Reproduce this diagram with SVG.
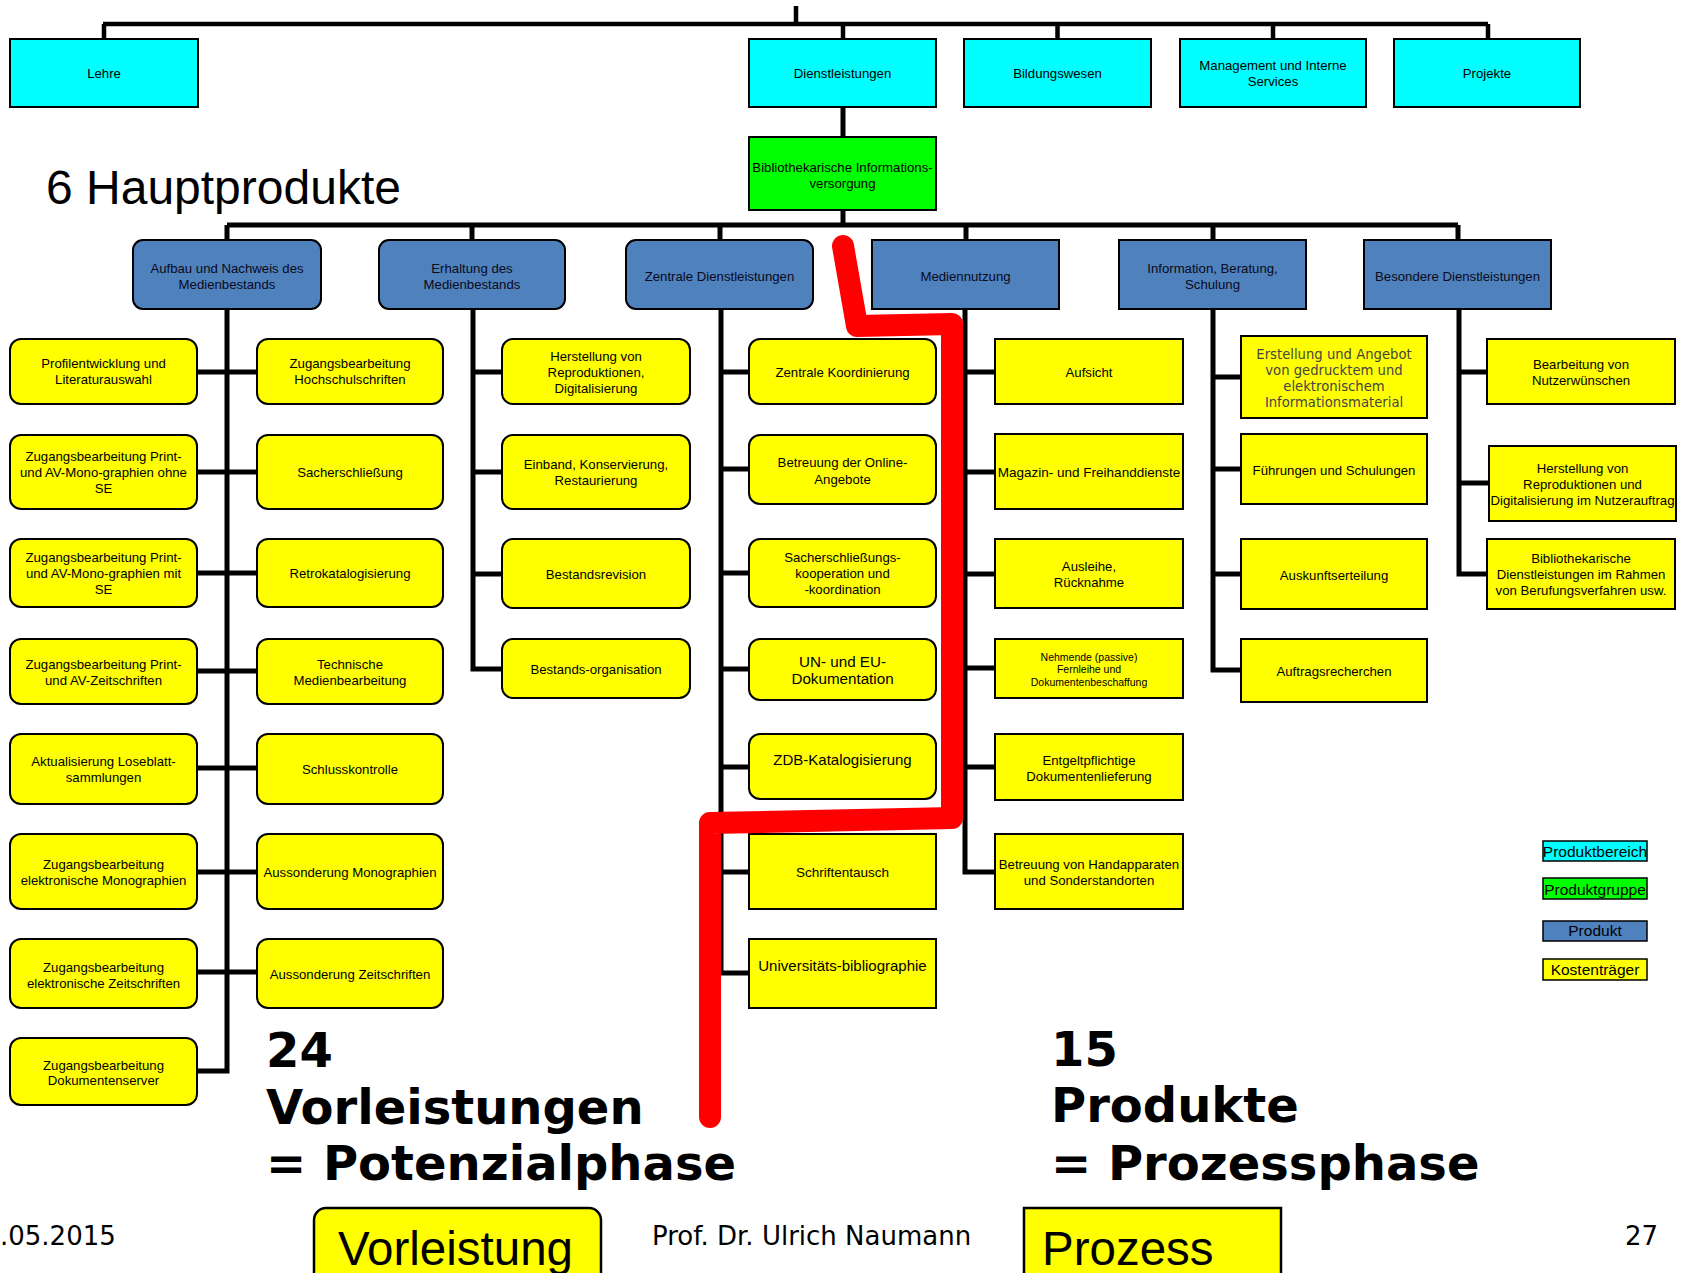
<svg xmlns="http://www.w3.org/2000/svg" width="1683" height="1273" viewBox="0 0 1683 1273">
<style>
.cy{fill:#00ffff;stroke:#000;stroke-width:2}
.gr{fill:#00ff00;stroke:#000;stroke-width:2}
.bl{fill:#4f81bd;stroke:#000;stroke-width:2}
.ye{fill:#ffff00;stroke:#000;stroke-width:2}
.lg{stroke:#000;stroke-width:1.5}
.t{font-family:"Liberation Sans",Arial,sans-serif;font-size:13.2px;text-anchor:middle;fill:#000}
.tb{font-family:"Liberation Sans",Arial,sans-serif;font-size:13.2px;text-anchor:middle;fill:#0a0a1a}
.tv{font-family:"DejaVu Sans",Verdana,sans-serif;font-size:13.2px;text-anchor:middle;fill:#454545}
.conn{fill:none;stroke:#000;stroke-width:5}
.big{font-family:"DejaVu Sans",Verdana,sans-serif;font-weight:bold;font-size:48px;fill:#000}
.foot{font-family:"DejaVu Sans",Verdana,sans-serif;font-size:26px;fill:#000}
.key{font-family:"Liberation Sans",Arial,sans-serif;font-size:47.5px;fill:#000}
.leg{font-family:"Liberation Sans",Arial,sans-serif;font-size:15.5px;text-anchor:middle;fill:#000}
</style>
<rect width="1683" height="1273" fill="#fff"/>

<g id="connectors">
<path class="conn" style="stroke-width:4.5" d="M796,6V24M103,24H1488M104,24V39M843,24V39M1057.5,24V39M1273,24V39M1488,24V39"/>
<path class="conn" d="M843,107V137M843,210V225M227,225H1458M227,225V240M472,225V240M720,225V240M966,225V240M1213,225V240M1458,225V240"/>
<path class="conn" d="M227,309V1071H197M197,372H257M197,472H257M197,573H257M197,671H257M197,768H257M197,872H257M197,972H257"/>
<path class="conn" d="M473,309V669H502M473,372H502M473,472H502M473,574H502"/>
<path class="conn" d="M721,309V973H749M721,372H749M721,469H749M721,573H749M721,669H749M721,767H749M721,872H749"/>
<path class="conn" d="M965,309V872H995M965,372H995M965,472H995M965,574H995M965,668H995M965,767H995"/>
<path class="conn" d="M1213,309V670H1241M1213,377H1241M1213,469H1241M1213,574H1241"/>
<path class="conn" d="M1459,309V574H1487M1459,372H1487M1459,483H1489"/>
</g>

<g id="lehre"><rect class="cy" x="10" y="39" width="188" height="68"/><text class="t" x="104" y="77.5">Lehre</text></g>
<g id="dienstleistungen"><rect class="cy" x="749" y="39" width="187" height="68"/><text class="t" x="842.5" y="77.5">Dienstleistungen</text></g>
<g id="bildungswesen"><rect class="cy" x="964" y="39" width="187" height="68"/><text class="t" x="1057.5" y="77.5">Bildungswesen</text></g>
<g id="management"><rect class="cy" x="1180" y="39" width="186" height="68"/><text class="t" x="1273" y="70">Management und Interne</text><text class="t" x="1273" y="86">Services</text></g>
<g id="projekte"><rect class="cy" x="1394" y="39" width="186" height="68"/><text class="t" x="1487" y="77.5">Projekte</text></g>

<g id="bib-info"><rect class="gr" x="749" y="137" width="187" height="73"/><text class="t" x="842.5" y="171.5">Bibliothekarische Informations-</text><text class="t" x="842.5" y="187.5">versorgung</text></g>

<text id="title" x="46" y="204" style="font-family:'Liberation Sans',Arial,sans-serif;font-size:48px;fill:#000">6 Hauptprodukte</text>

<g id="p-aufbau"><rect class="bl" x="133" y="240" width="188" height="69" rx="10"/><text class="tb" x="227" y="272.5">Aufbau und Nachweis des</text><text class="tb" x="227" y="288.5">Medienbestands</text></g>
<g id="p-erhaltung"><rect class="bl" x="379" y="240" width="186" height="69" rx="10"/><text class="tb" x="472" y="272.5">Erhaltung des</text><text class="tb" x="472" y="288.5">Medienbestands</text></g>
<g id="p-zentrale"><rect class="bl" x="626" y="240" width="187" height="69" rx="10"/><text class="tb" x="719.5" y="280.5">Zentrale Dienstleistungen</text></g>
<g id="p-mediennutzung"><rect class="bl" x="872" y="240" width="187" height="69"/><text class="tb" x="965.5" y="280.5">Mediennutzung</text></g>
<g id="p-information"><rect class="bl" x="1119" y="240" width="187" height="69"/><text class="tb" x="1212.5" y="272.5">Information, Beratung,</text><text class="tb" x="1212.5" y="288.5">Schulung</text></g>
<g id="p-besondere"><rect class="bl" x="1364" y="240" width="187" height="69"/><text class="tb" x="1457.5" y="280.5">Besondere Dienstleistungen</text></g>

<g id="a1"><rect class="ye" x="10" y="339" width="187" height="65" rx="11"/><text class="t" x="103.5" y="368">Profilentwicklung und</text><text class="t" x="103.5" y="384">Literaturauswahl</text></g>
<g id="a2"><rect class="ye" x="10" y="435" width="187" height="74" rx="11"/><text class="t" x="103.5" y="460.5">Zugangsbearbeitung Print-</text><text class="t" x="103.5" y="476.5">und AV-Mono-graphien ohne</text><text class="t" x="103.5" y="492.5">SE</text></g>
<g id="a3"><rect class="ye" x="10" y="539" width="187" height="68" rx="11"/><text class="t" x="103.5" y="561.5">Zugangsbearbeitung Print-</text><text class="t" x="103.5" y="577.5">und AV-Mono-graphien mit</text><text class="t" x="103.5" y="593.5">SE</text></g>
<g id="a4"><rect class="ye" x="10" y="639" width="187" height="65" rx="11"/><text class="t" x="103.5" y="668.5">Zugangsbearbeitung Print-</text><text class="t" x="103.5" y="684.5">und AV-Zeitschriften</text></g>
<g id="a5"><rect class="ye" x="10" y="734" width="187" height="70" rx="11"/><text class="t" x="103.5" y="766">Aktualisierung Loseblatt-</text><text class="t" x="103.5" y="782">sammlungen</text></g>
<g id="a6"><rect class="ye" x="10" y="834" width="187" height="75" rx="11"/><text class="t" x="103.5" y="869">Zugangsbearbeitung</text><text class="t" x="103.5" y="885">elektronische Monographien</text></g>
<g id="a7"><rect class="ye" x="10" y="939" width="187" height="69" rx="11"/><text class="t" x="103.5" y="971.5">Zugangsbearbeitung</text><text class="t" x="103.5" y="987.5">elektronische Zeitschriften</text></g>
<g id="a8"><rect class="ye" x="10" y="1038" width="187" height="67" rx="11"/><text class="t" x="103.5" y="1069.5">Zugangsbearbeitung</text><text class="t" x="103.5" y="1085">Dokumentenserver</text></g>

<g id="b1"><rect class="ye" x="257" y="339" width="186" height="65" rx="11"/><text class="t" x="350" y="368">Zugangsbearbeitung</text><text class="t" x="350" y="384">Hochschulschriften</text></g>
<g id="b2"><rect class="ye" x="257" y="435" width="186" height="74" rx="11"/><text class="t" x="350" y="477">Sacherschließung</text></g>
<g id="b3"><rect class="ye" x="257" y="539" width="186" height="68" rx="11"/><text class="t" x="350" y="578">Retrokatalogisierung</text></g>
<g id="b4"><rect class="ye" x="257" y="639" width="186" height="65" rx="11"/><text class="t" x="350" y="668.5">Technische</text><text class="t" x="350" y="684.5">Medienbearbeitung</text></g>
<g id="b5"><rect class="ye" x="257" y="734" width="186" height="70" rx="11"/><text class="t" x="350" y="774">Schlusskontrolle</text></g>
<g id="b6"><rect class="ye" x="257" y="834" width="186" height="75" rx="11"/><text class="t" x="350" y="877">Aussonderung Monographien</text></g>
<g id="b7"><rect class="ye" x="257" y="939" width="186" height="69" rx="11"/><text class="t" x="350" y="978.5">Aussonderung Zeitschriften</text></g>

<g id="c1"><rect class="ye" x="502" y="339" width="188" height="65" rx="11"/><text class="t" x="596" y="360.5">Herstellung von</text><text class="t" x="596" y="377">Reproduktionen,</text><text class="t" x="596" y="393">Digitalisierung</text></g>
<g id="c2"><rect class="ye" x="502" y="435" width="188" height="74" rx="11"/><text class="t" x="596" y="469">Einband, Konservierung,</text><text class="t" x="596" y="485">Restaurierung</text></g>
<g id="c3"><rect class="ye" x="502" y="539" width="188" height="69" rx="11"/><text class="t" x="596" y="578.5">Bestandsrevision</text></g>
<g id="c4"><rect class="ye" x="502" y="639" width="188" height="59" rx="11"/><text class="t" x="596" y="674">Bestands-organisation</text></g>

<g id="d1"><rect class="ye" x="749" y="339" width="187" height="65" rx="11"/><text class="t" x="842.5" y="377">Zentrale Koordinierung</text></g>
<g id="d2"><rect class="ye" x="749" y="435" width="187" height="69" rx="11"/><text class="t" x="842.5" y="467">Betreuung der Online-</text><text class="t" x="842.5" y="483.5">Angebote</text></g>
<g id="d3"><rect class="ye" x="749" y="539" width="187" height="68" rx="11"/><text class="t" x="842.5" y="562">Sacherschließungs-</text><text class="t" x="842.5" y="578">kooperation und</text><text class="t" x="842.5" y="594">-koordination</text></g>
<g id="d4"><rect class="ye" x="749" y="639" width="187" height="61" rx="11"/><text class="t" x="842.5" y="667" style="font-size:15.2px">UN- und EU-</text><text class="t" x="842.5" y="683.5" style="font-size:15.2px">Dokumentation</text></g>
<g id="d5"><rect class="ye" x="749" y="734" width="187" height="65" rx="11"/><text class="t" x="842.5" y="765" style="font-size:15px">ZDB-Katalogisierung</text></g>
<g id="d6"><rect class="ye" x="749" y="834" width="187" height="75"/><text class="t" x="842.5" y="877" style="font-size:13.5px">Schriftentausch</text></g>
<g id="d7"><rect class="ye" x="749" y="939" width="187" height="69"/><text class="t" x="842.5" y="971" style="font-size:15px">Universitäts-bibliographie</text></g>

<g id="e1"><rect class="ye" x="995" y="339" width="188" height="65"/><text class="t" x="1089" y="377">Aufsicht</text></g>
<g id="e2"><rect class="ye" x="995" y="434" width="188" height="75"/><text class="t" x="1089" y="477" style="font-size:13.5px">Magazin- und Freihanddienste</text></g>
<g id="e3"><rect class="ye" x="995" y="539" width="188" height="69"/><text class="t" x="1089" y="571">Ausleihe,</text><text class="t" x="1089" y="587">Rücknahme</text></g>
<g id="e4"><rect class="ye" x="995" y="639" width="188" height="59"/><text class="t" x="1089" y="660.5" style="font-size:10.5px">Nehmende (passive)</text><text class="t" x="1089" y="673" style="font-size:10.5px">Fernleihe und</text><text class="t" x="1089" y="686" style="font-size:10.5px">Dokumentenbeschaffung</text></g>
<g id="e5"><rect class="ye" x="995" y="734" width="188" height="66"/><text class="t" x="1089" y="765">Entgeltpflichtige</text><text class="t" x="1089" y="781">Dokumentenlieferung</text></g>
<g id="e6"><rect class="ye" x="995" y="834" width="188" height="75"/><text class="t" x="1089" y="869">Betreuung von Handapparaten</text><text class="t" x="1089" y="885">und Sonderstandorten</text></g>

<g id="f1"><rect class="ye" x="1241" y="336" width="186" height="82"/><text class="tv" x="1334" y="359">Erstellung und Angebot</text><text class="tv" x="1334" y="375">von gedrucktem und</text><text class="tv" x="1334" y="391">elektronischem</text><text class="tv" x="1334" y="407">Informationsmaterial</text></g>
<g id="f2"><rect class="ye" x="1241" y="434" width="186" height="70"/><text class="t" x="1334" y="475">Führungen und Schulungen</text></g>
<g id="f3"><rect class="ye" x="1241" y="539" width="186" height="70"/><text class="t" x="1334" y="579.5">Auskunftserteilung</text></g>
<g id="f4"><rect class="ye" x="1241" y="639" width="186" height="63"/><text class="t" x="1334" y="676">Auftragsrecherchen</text></g>

<g id="g1"><rect class="ye" x="1487" y="339" width="188" height="65"/><text class="t" x="1581" y="368.5">Bearbeitung von</text><text class="t" x="1581" y="385">Nutzerwünschen</text></g>
<g id="g2"><rect class="ye" x="1489" y="446" width="187" height="75"/><text class="t" x="1582.5" y="473">Herstellung von</text><text class="t" x="1582.5" y="489">Reproduktionen und</text><text class="t" x="1582.5" y="505">Digitalisierung im Nutzerauftrag</text></g>
<g id="g3"><rect class="ye" x="1487" y="539" width="188" height="70"/><text class="t" x="1581" y="562.5">Bibliothekarische</text><text class="t" x="1581" y="578.5">Dienstleistungen im Rahmen</text><text class="t" x="1581" y="595">von Berufungsverfahren usw.</text></g>

<path id="red-line" d="M843,246L857,326L952,324L952,818L710,823L710,1117" fill="none" stroke="#ff0000" stroke-width="22" stroke-linejoin="round" stroke-linecap="round"/>

<g id="legend">
<rect class="lg" x="1543" y="841" width="104" height="20" fill="#00ffff"/><text class="leg" x="1595" y="856.5">Produktbereich</text>
<rect class="lg" x="1543" y="878" width="104" height="21" fill="#00ff00"/><text class="leg" x="1595" y="894.5">Produktgruppe</text>
<rect class="lg" x="1543" y="921" width="104" height="20" fill="#4f81bd"/><text class="leg" x="1595" y="936">Produkt</text>
<rect class="lg" x="1543" y="959" width="104" height="21" fill="#ffff00"/><text class="leg" x="1595" y="975">Kostenträger</text>
</g>

<g id="summary-left">
<text class="big" x="266" y="1067">24</text>
<text class="big" x="266" y="1124">Vorleistungen</text>
<text class="big" x="266" y="1180">= Potenzialphase</text>
</g>
<g id="summary-right">
<text class="big" x="1051" y="1066">15</text>
<text class="big" x="1051" y="1122">Produkte</text>
<text class="big" x="1051" y="1180">= Prozessphase</text>
</g>

<g id="footer">
<text class="foot" x="0" y="1245">.05.2015</text>
<text class="foot" x="652" y="1245">Prof. Dr. Ulrich Naumann</text>
<text class="foot" x="1625" y="1245">27</text>
</g>

<g id="key-vorleistung"><rect x="314" y="1208" width="287" height="85" rx="12" fill="#ffff00" stroke="#000" stroke-width="2.5"/><text class="key" x="338" y="1265">Vorleistung</text></g>
<g id="key-prozess"><rect x="1024" y="1208" width="257" height="85" fill="#ffff00" stroke="#000" stroke-width="2.5"/><text class="key" x="1042" y="1265">Prozess</text></g>
</svg>
